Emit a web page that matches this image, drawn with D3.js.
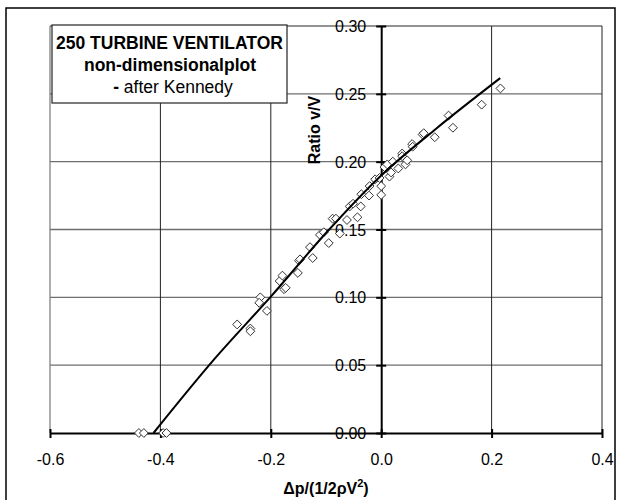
<!DOCTYPE html>
<html>
<head>
<meta charset="utf-8">
<script src="https://cdn.jsdelivr.net/npm/d3@7"></script>
<style>
  body { margin: 0; background: #fff; }
  svg { display: block; font-family: "Liberation Sans", Arial, sans-serif; }
</style>
</head>
<body>
<svg id="chart" width="621" height="500"></svg>
<script>
// ---- data ----
const pointsX = [-0.439, -0.430, -0.395, -0.389,
  -0.261, -0.237, -0.237, -0.219, -0.221, -0.207, -0.184, -0.179, -0.176, -0.173,
  -0.151, -0.149, -0.147, -0.124, -0.129, -0.111, -0.104, -0.095, -0.088, -0.082,
  -0.075, -0.062, -0.057, -0.051, -0.043, -0.037, -0.036, -0.022, -0.021, -0.011,
  -0.003, 0.000, 0.000, 0.006, 0.011, 0.015, 0.018, 0.021, 0.031, 0.038, 0.038,
  0.044, 0.047, 0.056, 0.057, 0.075, 0.077, 0.097, 0.122, 0.130, 0.182, 0.216];
const pointsY = [0, 0, 0, 0,
  0.080, 0.077, 0.075, 0.100, 0.096, 0.090, 0.112, 0.116, 0.106, 0.107,
  0.118, 0.127, 0.128, 0.129, 0.137, 0.146, 0.148, 0.140, 0.158, 0.158,
  0.147, 0.157, 0.167, 0.169, 0.159, 0.167, 0.176, 0.175, 0.182, 0.187,
  0.188, 0.1755, 0.182, 0.196, 0.198, 0.189, 0.192, 0.200, 0.195, 0.206, 0.204,
  0.198, 0.201, 0.213, 0.211, 0.220, 0.221, 0.218, 0.234, 0.225, 0.242, 0.254];
// fitted trend curve
const trendX = [-0.4125, -0.30, -0.20, -0.10, 0.0, 0.10, 0.2156];
const trendY = [0.0, 0.0555, 0.1005, 0.1474, 0.1898, 0.2245, 0.2616];
const xTicks = [-0.6, -0.4, -0.2, 0.0, 0.2, 0.4];
const yTicks = [0.00, 0.05, 0.10, 0.15, 0.20, 0.25, 0.30];
const titleLines = ["250 TURBINE VENTILATOR", "non-dimensionalplot", "after Kennedy"];
const yTitle = "Ratio v/V";

const svg = d3.select("#chart");
const x = d3.scaleLinear().domain([-0.6, 0.4]).range([50, 602]);
const y = d3.scaleLinear().domain([0, 0.30]).range([433, 26]);
const hyphen = f => d => f(d).replace("\u2212", "-");

// outer chart border
svg.append("rect").attr("x", 6).attr("y", 8).attr("width", 609).attr("height", 500)
  .attr("fill", "#fff").attr("stroke", "#000").attr("stroke-width", 1.5);

// horizontal gridlines
svg.append("g").selectAll("line").data(yTicks.filter(d => d > 0)).join("line")
  .attr("x1", x(-0.6)).attr("x2", x(0.4))
  .attr("y1", d => y(d)).attr("y2", d => y(d))
  .attr("stroke", "#6e6e6e").attr("stroke-width", 1.4);
// vertical gridlines
svg.append("g").selectAll("line").data(xTicks.filter(d => d !== 0 && d !== -0.6)).join("line")
  .attr("x1", d => x(d)).attr("x2", d => x(d))
  .attr("y1", y(0.30)).attr("y2", y(0))
  .attr("stroke", "#222").attr("stroke-width", 1);
// left plot border
svg.append("line").attr("x1", x(-0.6)).attr("x2", x(-0.6)).attr("y1", y(0.30)).attr("y2", y(0))
  .attr("stroke", "#777").attr("stroke-width", 1.2);

// title box
const box = svg.append("g");
box.append("rect").attr("x", 52).attr("y", 25).attr("width", 235).attr("height", 78)
  .attr("fill", "#fff").attr("stroke", "#222").attr("stroke-width", 1.2);
box.append("text").attr("x", 169.5).attr("y", 49).attr("text-anchor", "middle")
  .attr("font-size", 17.5).attr("font-weight", "bold").text(titleLines[0]);
box.append("text").attr("x", 170).attr("y", 71).attr("text-anchor", "middle")
  .attr("font-size", 17.5).attr("font-weight", "bold").text(titleLines[1]);
const t3 = box.append("text").attr("x", 173).attr("y", 93).attr("text-anchor", "middle")
  .attr("font-size", 17.5);
t3.append("tspan").attr("font-weight", "bold").text("- ");
t3.append("tspan").text(titleLines[2]);

// x axis
const xAxis = d3.axisBottom(x).tickValues(xTicks).tickSize(0).tickFormat(hyphen(d3.format(".1f")));
const gx = svg.append("g").attr("transform", `translate(0,${y(0)})`).call(xAxis);
gx.select(".domain").attr("stroke", "#000").attr("stroke-width", 2);
gx.selectAll(".tick text").attr("font-size", 16).attr("fill", "#000").attr("dy", 0)
  .attr("y", 32).attr("font-family", "Liberation Sans, Arial, sans-serif");
gx.selectAll(".tick").append("line").attr("y1", -4).attr("y2", 5)
  .attr("stroke", "#000").attr("stroke-width", 2);

// y axis
const yAxis = d3.axisLeft(y).tickValues(yTicks).tickSize(0).tickFormat(d3.format(".2f"));
const gy = svg.append("g").attr("transform", `translate(${x(0)},0)`).call(yAxis);
gy.select(".domain").attr("stroke", "#000").attr("stroke-width", 2);
gy.selectAll(".tick text").attr("font-size", 16).attr("fill", "#000")
  .attr("x", -15).attr("dy", "0.35em").attr("font-family", "Liberation Sans, Arial, sans-serif");
gy.selectAll(".tick").append("line").attr("x1", -5).attr("x2", 5)
  .attr("stroke", "#000").attr("stroke-width", 2);

// markers
const pts = pointsX.map((v, i) => [v, pointsY[i]]);
const sym = d3.symbol().type(d3.symbolDiamond2).size(50);
svg.append("g").selectAll("path").data(pts).join("path")
  .attr("transform", d => `translate(${x(d[0])},${y(d[1])})`)
  .attr("d", sym).attr("fill", "#fff").attr("stroke", "#333").attr("stroke-width", 1);

// trend line
const trend = trendX.map((v, i) => [v, trendY[i]]);
svg.append("path").datum(trend)
  .attr("d", d3.line().x(d => x(d[0])).y(d => y(d[1])).curve(d3.curveMonotoneX))
  .attr("fill", "none").attr("stroke", "#000").attr("stroke-width", 2);

// axis titles
svg.append("text").attr("transform", "translate(320,130) rotate(-90)")
  .attr("text-anchor", "middle").attr("font-size", 16).attr("font-weight", "bold").text(yTitle);
const xt = svg.append("text").attr("x", 326).attr("y", 494).attr("text-anchor", "middle")
  .attr("font-size", 16).attr("font-weight", "bold");
xt.append("tspan").text("\u0394p/(1/2\u03C1V");
xt.append("tspan").attr("font-size", 11).attr("dy", -7).text("2");
xt.append("tspan").attr("dy", 7).text(")");
</script>
</body>
</html>
